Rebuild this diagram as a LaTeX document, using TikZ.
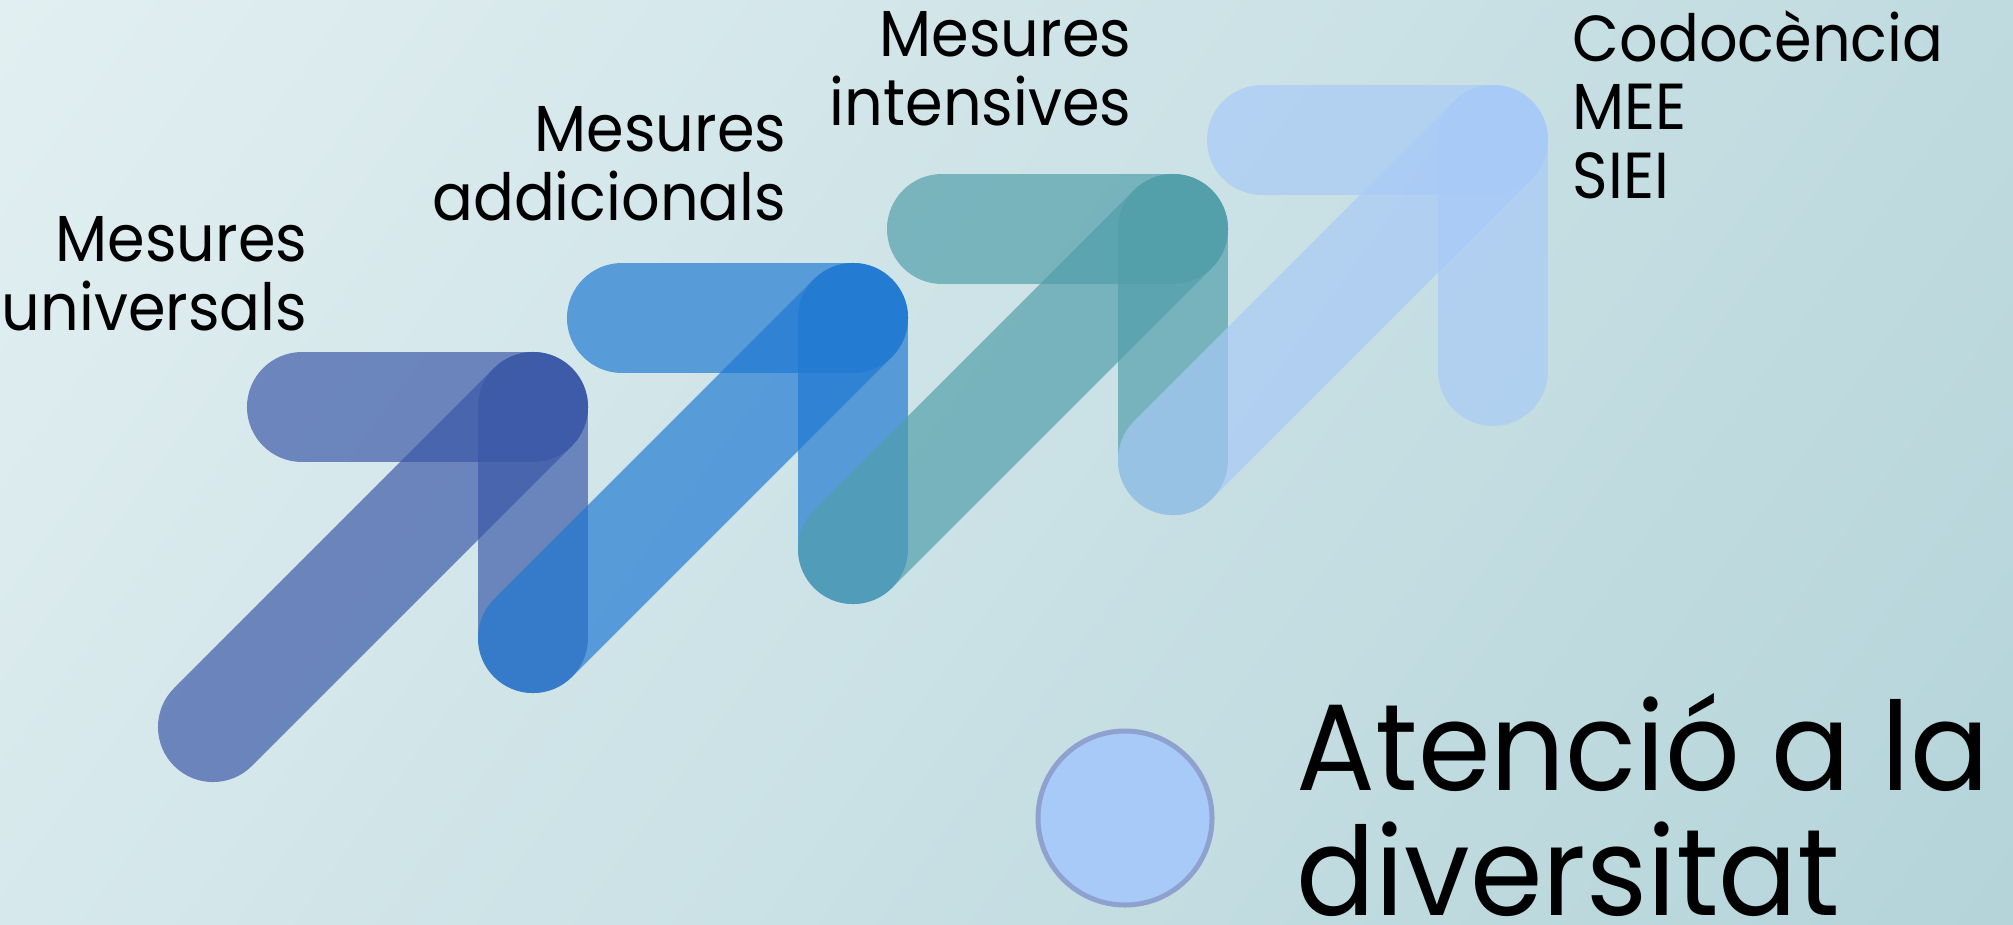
\documentclass[tikz,border=0pt]{standalone}
\usepackage{fontspec}
\setmainfont{Poppins}
\newfontfamily\stepfont{Poppins}[FakeStretch=0.93]
\newfontfamily\titlefont{Poppins}[FakeStretch=0.95]
\usepackage{tikz}

\definecolor{bgleft}{RGB}{236,245,247}
\definecolor{bgright}{RGB}{170,206,212}
\definecolor{stepone}{RGB}{57,87,167}
\definecolor{steptwo}{RGB}{30,120,210}
\definecolor{stepthree}{RGB}{80,158,169}
\definecolor{stepfour}{RGB}{168,202,248}
\definecolor{dotline}{RGB}{143,162,207}

\pgfdeclarehorizontalshading{bgshade}{100bp}{color(0bp)=(bgleft); color(100bp)=(bgright)}

\tikzset{
  bar/.style={line width=1.1cm, line cap=round, draw opacity=0.68},
  steptext/.style={font=\stepfont\fontsize{18.5}{19.4}\selectfont, inner sep=0pt},
  titletext/.style={font=\titlefont\fontsize{35}{35.3}\selectfont, inner sep=0pt, align=left}
}

\begin{document}
\begin{tikzpicture}[x=0.01cm,y=-0.01cm]
        % background
        \shade[shading=bgshade, shading angle=-36]
            (0,0) rectangle (2013,924);
        \useasboundingbox (0,0) rectangle (2013,924);

        % corners of the four steps
        \coordinate (c1) at (533,407);
        \coordinate (c2) at (853,318);
        \coordinate (c3) at (1173,229);
        \coordinate (c4) at (1493,140);

        % step 1
        \draw[bar, stepone] (c1) -- ++(-231,0); % top bar
        \draw[bar, stepone] (c1) -- ++(0,231); % side bar
        \draw[bar, stepone] (c1) -- ++(-320,320); % diagonal

        % step 2
        \draw[bar, steptwo] (c2) -- ++(-231,0);
        \draw[bar, steptwo] (c2) -- ++(0,231);
        \draw[bar, steptwo] (c2) -- ++(-320,320);

        % step 3
        \draw[bar, stepthree] (c3) -- ++(-231,0);
        \draw[bar, stepthree] (c3) -- ++(0,231);
        \draw[bar, stepthree] (c3) -- ++(-320,320);

        % step 4
        \draw[bar, stepfour] (c4) -- ++(-231,0);
        \draw[bar, stepfour] (c4) -- ++(0,231);
        \draw[bar, stepfour] (c4) -- ++(-320,320);

        % labels (base = last line)
        \node[steptext, anchor=base east, align=right] (universals) at (308,330)
            {Mesures\\universals};
        \node[steptext, anchor=base east, align=right] (addicionals) at (787,220)
            {Mesures\\addicionals};
        \node[steptext, anchor=base east, align=right] (intensives) at (1132,125)
            {Mesures\\intensives};
        \node[steptext, anchor=base west, align=left] (codocencia) at (1572,198)
            {Codocència\\MEE\\SIEI};

        % title with its dot
        \draw[fill=stepfour, draw=dotline, line width=0.05cm] (1125,818) circle (87);
        \node[titletext, anchor=base west] (title) at (1296,915)
            {Atenció a la\\diversitat};
\end{tikzpicture}
\end{document}
